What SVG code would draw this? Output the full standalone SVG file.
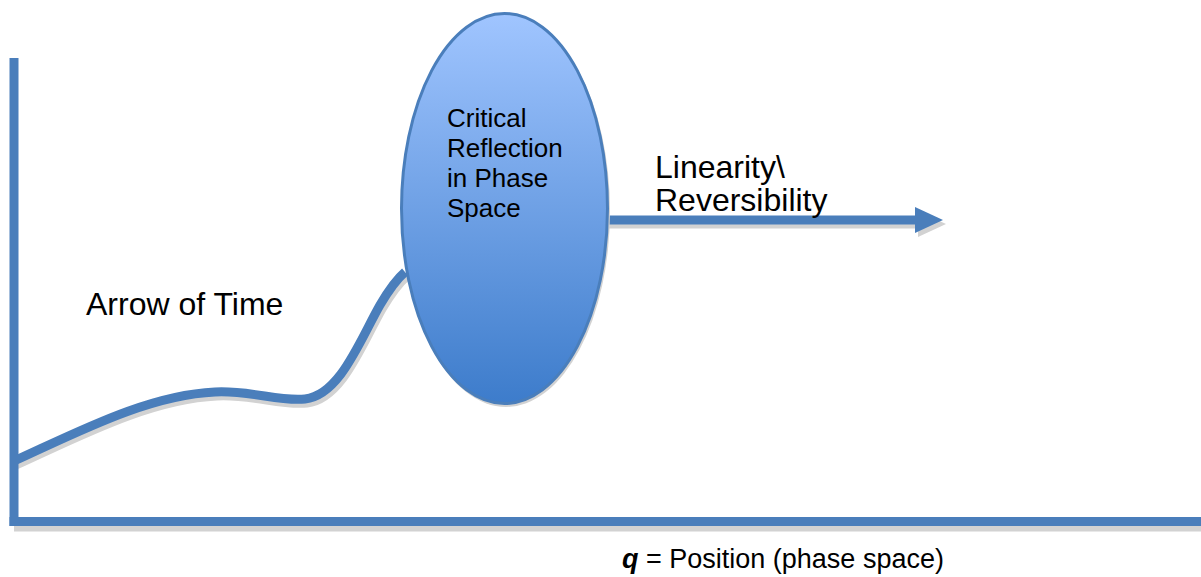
<svg xmlns="http://www.w3.org/2000/svg" width="1201" height="577" viewBox="0 0 1201 577">
<defs>
<linearGradient id="eg" x1="0" y1="0" x2="0" y2="1">
<stop offset="0" stop-color="#A0C5FF"/>
<stop offset="1" stop-color="#3D7CCB"/>
</linearGradient>
<style>
.ln{fill:none;stroke:#4A7EBB;stroke-width:9}
.sh{fill:none;stroke:#D2D2D2;stroke-width:9}
.t{font-family:"Liberation Sans",Arial,sans-serif;fill:#000}
</style>
</defs>
<rect width="1201" height="577" fill="#fff"/>
<g id="connectors">
<path class="sh" d="M16,465 C 80,436 150,399 217,396 C 252,394 282,406 307,403 C 342,399 362,344 382,309 C 392,292 400,282 407,276"/>
<path class="ln" d="M14,461 C 78,432 148,395 215,392 C 250,390 280,402 305,399 C 340,395 360,340 380,305 C 390,288 398,278 405,272"/>
<line class="sh" x1="14" y1="527" x2="1201" y2="527"/>
<line class="ln" x1="14" y1="58" x2="14" y2="526"/>
<line class="ln" x1="9.5" y1="521.5" x2="1201" y2="521.5"/>
<line class="sh" x1="609" y1="224" x2="918" y2="224" stroke-width="8"/>
<polygon points="918,211 946,224 918,237" fill="#D2D2D2"/>
<line class="ln" x1="607" y1="220" x2="916" y2="220" stroke-width="8"/>
<polygon points="915,207 943,220 915,233" fill="#4A7EBB"/>
</g>
<g id="node-ellipse">
<ellipse cx="506" cy="211" rx="104" ry="196" fill="#D2D2D2"/>
<ellipse cx="504.5" cy="208.5" rx="103" ry="195" fill="url(#eg)" stroke="#4A7EBB" stroke-width="3"/>
<text class="t" font-size="26" x="447">
<tspan x="447" y="127">Critical</tspan>
<tspan x="447" y="157">Reflection</tspan>
<tspan x="447" y="187">in Phase</tspan>
<tspan x="447" y="217">Space</tspan>
</text>
</g>
<g id="label-linearity">
<text class="t" font-size="32" x="655">
<tspan x="655" y="178">Linearity\</tspan>
<tspan x="655" y="211">Reversibility</tspan>
</text>
</g>
<g id="label-arrow-of-time">
<text class="t" font-size="32" x="86" y="315">Arrow of Time</text>
</g>
<g id="label-axis">
<text class="t" font-size="27" x="622" y="568"><tspan font-weight="bold" font-style="italic">q</tspan> = Position (phase space)</text>
</g>
</svg>
